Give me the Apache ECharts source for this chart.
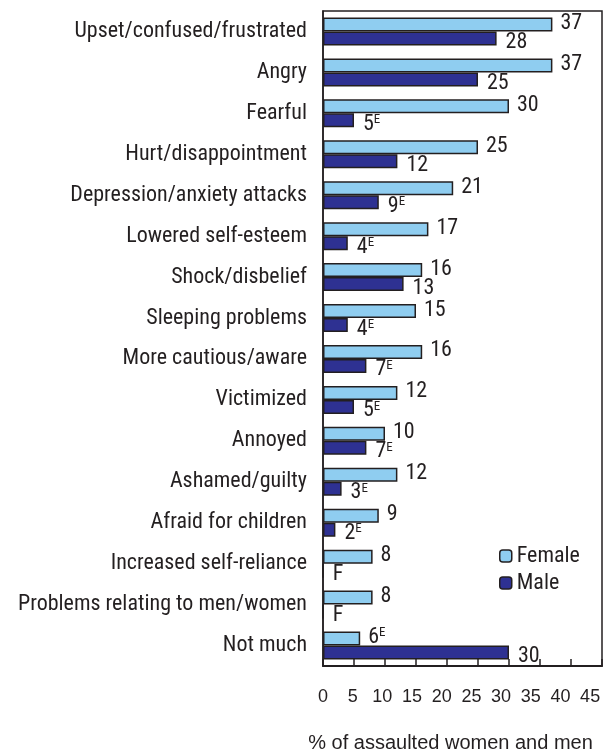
<!DOCTYPE html>
<html><head><meta charset="utf-8">
<script src="https://cdn.jsdelivr.net/npm/echarts@6/dist/echarts.min.js"></script>
<style>html,body{margin:0;padding:0;background:#fff}#c{width:615px;height:753px}</style>
</head><body><div id="c"></div>
<script>
var categories = ["Upset/confused/frustrated","Angry","Fearful","Hurt/disappointment","Depression/anxiety attacks","Lowered self-esteem","Shock/disbelief","Sleeping problems","More cautious/aware","Victimized","Annoyed","Ashamed/guilty","Afraid for children","Increased self-reliance","Problems relating to men/women","Not much"];
var femaleValues = [37,37,30,25,21,17,16,15,16,12,10,12,9,8,8,6];
var femaleFlags  = ["","","","","","","","","","","","","","","","E"];
var maleValues   = [28,25,5,12,9,4,13,4,7,5,7,3,2,0,0,30];
var maleFlags    = ["","","E","","E","E","","E","E","E","E","E","E","F","F",""];
var xTicks = [0,5,10,15,20,25,30,35,40,45];

var FONT = '"Liberation Sans Narrow","Roboto Condensed","Liberation Sans",Arial,sans-serif';
var REG = '"Liberation Sans",Arial,sans-serif';
var TXT = '#231f20';

function fmt(flags){
  return function(p){
    var f = flags[p.dataIndex];
    if (f === 'F') return '{v|F}';
    if (f === 'E') return '{v|' + p.value + '}{e|E}';
    return '{v|' + p.value + '}';
  };
}
var rich = {
  v: {fontFamily: FONT, fontSize: 22, lineHeight: 22, color: TXT},
  e: {fontFamily: FONT, fontSize: 13, lineHeight: 15, color: TXT, verticalAlign: 'top'}
};
function tickFmt(v){ return xTicks.indexOf(v) >= 0 ? String(v) : ''; }

var chart = echarts.init(document.getElementById('c'));
chart.setOption({
  animation: false,
  grid: {left: 323, right: 13, top: 11, bottom: 87, show: true, borderColor: TXT, borderWidth: 1.5, outerBoundsMode: 'none', containLabel: false},
  legend: {
    data: ['Female','Male'], orient: 'vertical', left: 494, top: 540,
    itemWidth: 12, itemHeight: 12, itemGap: 5,
    textStyle: {fontFamily: FONT, fontSize: 22, color: TXT},
    itemStyle: {borderColor: TXT, borderWidth: 1.5}
  },
  xAxis: [{
    type: 'value', min: 0, max: 45, interval: 5,
    name: '% of assaulted women and men', nameLocation: 'middle', nameGap: 67,
    nameTextStyle: {fontFamily: REG, fontSize: 20, color: TXT, padding: [0, 24, 0, 0]},
    axisLine: {show: true, lineStyle: {color: TXT, width: 2}},
    axisTick: {show: true, inside: true, length: 7, lineStyle: {color: TXT, width: 1.5}},
    axisLabel: {show: false},
    splitLine: {show: false}
  }, {
    type: 'value', min: 0, max: 47, interval: 5, position: 'bottom',
    axisLine: {show: false}, axisTick: {show: false}, splitLine: {show: false},
    axisLabel: {fontFamily: REG, fontSize: 18, color: TXT, margin: 22, formatter: tickFmt}
  }],
  yAxis: {
    type: 'category', data: categories, inverse: true,
    axisLine: {show: true, lineStyle: {color: TXT, width: 1.5}},
    axisTick: {show: false},
    axisLabel: {fontFamily: FONT, fontSize: 22, color: TXT, margin: 16}
  },
  series: [
    {
      name: 'Female', type: 'bar', data: femaleValues, barWidth: 14, barGap: '0%', xAxisIndex: 0,
      itemStyle: {color: '#8fcdf0', borderColor: TXT, borderWidth: 1.5},
      label: {show: true, position: 'right', distance: 8, offset: [0,-1], formatter: fmt(femaleFlags), rich: rich}
    },
    {
      name: 'Male', type: 'bar', data: maleValues, barWidth: 14, barGap: '0%', xAxisIndex: 0,
      itemStyle: {color: '#2e3192', borderColor: TXT, borderWidth: 1.5},
      label: {show: true, position: 'right', distance: 9, offset: [0,4], formatter: fmt(maleFlags), rich: rich}
    }
  ]
});
</script></body></html>
